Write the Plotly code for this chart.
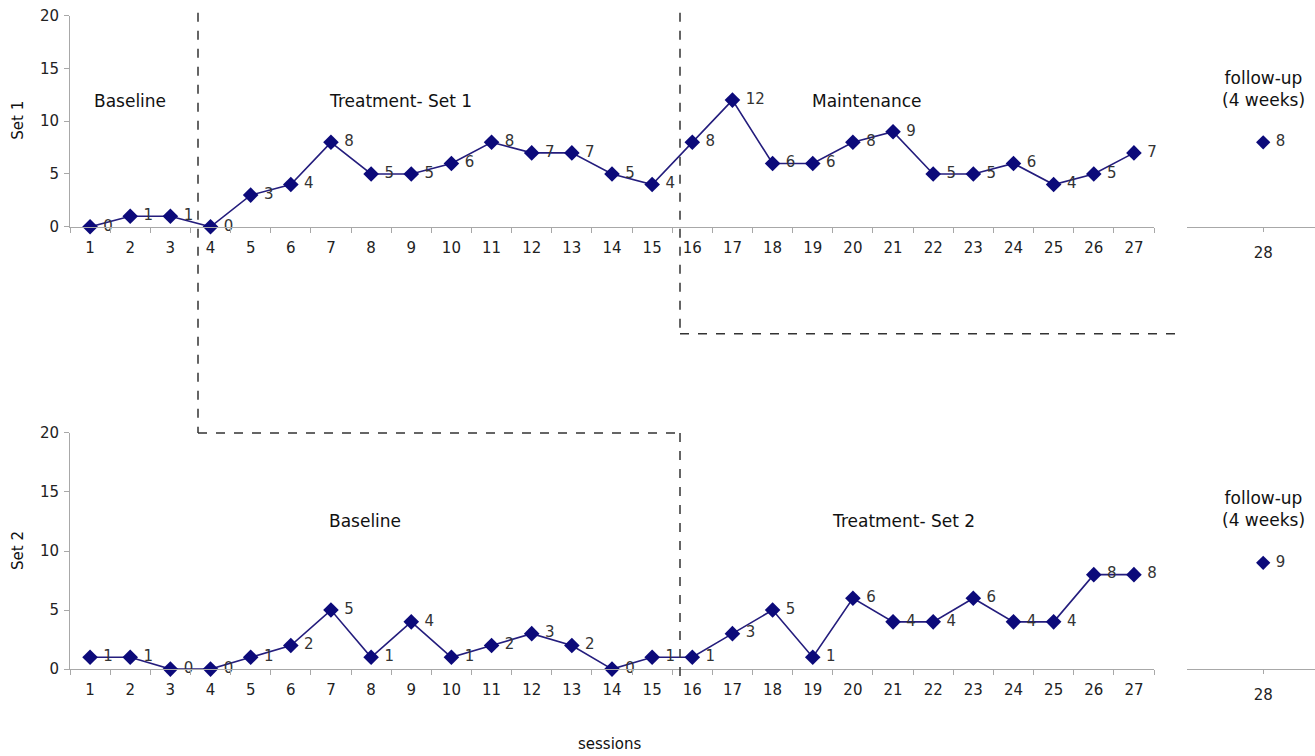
import plotly.graph_objects as go

W, H = 1315, 756

sessions = [str(i) for i in range(1, 28)]
set1_values = [0, 1, 1, 0, 3, 4, 8, 5, 5, 6, 8, 7, 7, 5, 4, 8, 12, 6, 6, 8, 9, 5, 5, 6, 4, 5, 7]
set2_values = [1, 1, 0, 0, 1, 2, 5, 1, 4, 1, 2, 3, 2, 0, 1, 1, 3, 5, 1, 6, 4, 4, 6, 4, 4, 8, 8]
followup_session = [28]
set1_followup = [8]
set2_followup = [9]
y_ticks = [0, 5, 10, 15, 20]

phase_labels_top = ["Baseline", "Treatment- Set 1", "Maintenance"]
phase_labels_bottom = ["Baseline", "Treatment- Set 2"]
followup_label = "follow-up<br>(4 weeks)"

FONT = "DejaVu Sans"
MARK = "#0c0a7a"
LINE = "#241d7d"
AXC = "#a8a8a8"
TXT = "#222222"

# observed vertical mapping in the rendered picture: shown = 8.37 + 0.9755 * page_y
VS, VO = 0.9755, 8.37


def px(x):
    return x / W


def py(y):
    return 1 - ((y - VO) / VS) / H


fig = go.Figure()

for vals, xa, ya in [(set1_values, "x", "y"), (set2_values, "x2", "y2")]:
    fig.add_trace(go.Scatter(
        x=sessions, y=vals, xaxis=xa, yaxis=ya,
        mode="lines+markers+text",
        text=[" " + str(v) for v in vals], textposition="middle right",
        textfont=dict(family=FONT, size=15, color="#333333"),
        line=dict(color=LINE, width=1.6),
        marker=dict(symbol="diamond", size=12, color=MARK),
        showlegend=False, cliponaxis=False,
    ))

for vals, xa, ya in [(set1_followup, "x3", "y3"), (set2_followup, "x4", "y4")]:
    fig.add_trace(go.Scatter(
        x=followup_session, y=vals, xaxis=xa, yaxis=ya,
        mode="markers+text",
        text=[" " + str(v) for v in vals], textposition="middle right",
        textfont=dict(family=FONT, size=15, color="#333333"),
        marker=dict(symbol="diamond", size=11, color=MARK),
        showlegend=False, cliponaxis=False,
    ))

top_dom = [py(226), py(15)]
bot_dom = [py(668), py(432)]
main_x = [px(70), px(1154)]
fu_x = [px(1187), 1.0]

xcommon = dict(type="category", range=[-0.5, 26.5], tickson="boundaries",
               ticks="outside", ticklen=5, ticklabelstandoff=7,
               tickcolor=AXC, showline=True, linecolor=AXC, linewidth=1,
               showgrid=False, zeroline=False,
               tickfont=dict(family=FONT, size=15, color=TXT))
ycommon = dict(range=[0, 20], tickvals=y_ticks, ticks="outside", ticklen=5,
               ticklabelstandoff=2,
               tickcolor=AXC, showline=True, linecolor=AXC, linewidth=1,
               showgrid=False, zeroline=False,
               tickfont=dict(family=FONT, size=15, color=TXT))
fucommon = dict(type="linear", range=[27.5, 28.34], tickvals=followup_session,
                ticks="outside", ticklen=4, ticklabelstandoff=8, tickcolor=AXC,
                showline=True, linecolor=AXC, linewidth=1, showgrid=False,
                zeroline=False, tickfont=dict(family=FONT, size=15, color=TXT))
fuy = dict(range=[0, 20], visible=False, showgrid=False, zeroline=False)

fig.update_layout(
    width=W, height=H,
    margin=dict(l=0, r=0, t=0, b=0),
    paper_bgcolor="white", plot_bgcolor="white",
    font=dict(family=FONT, size=15, color=TXT),
    xaxis=dict(domain=main_x, anchor="y", **xcommon),
    yaxis=dict(domain=top_dom, anchor="x", **ycommon),
    xaxis2=dict(domain=main_x, anchor="y2", **xcommon),
    yaxis2=dict(domain=bot_dom, anchor="x2", **ycommon),
    xaxis3=dict(domain=fu_x, anchor="y3", **fucommon),
    yaxis3=dict(domain=top_dom, anchor="x3", **fuy),
    xaxis4=dict(domain=fu_x, anchor="y4", **fucommon),
    yaxis4=dict(domain=bot_dom, anchor="x4", **fuy),
)

ann = []


def add_text(x, y, t, size=17, angle=0):
    ann.append(dict(x=px(x), y=py(y), xref="paper", yref="paper", text=t,
                    showarrow=False, textangle=angle,
                    font=dict(family=FONT, size=size, color="#111111"),
                    xanchor="center", yanchor="middle"))


add_text(130, 100, phase_labels_top[0])
add_text(400, 100, phase_labels_top[1])
add_text(866, 100, phase_labels_top[2])
add_text(1263, 88, followup_label)
add_text(365, 520, phase_labels_bottom[0])
add_text(904, 520, phase_labels_bottom[1])
add_text(1263, 508, followup_label)
add_text(18, 120, "Set 1", size=15, angle=-90)
add_text(18, 550, "Set 2", size=15, angle=-90)
add_text(610, 743, "sessions", size=15)
fig.update_layout(annotations=ann)

dash = dict(color="#333333", width=1.5, dash="dash")
segs = [
    (198, 12, 198, 432),
    (198, 432, 680, 432),
    (680, 432, 680, 678),
    (680, 12, 680, 333),
    (680, 333, 1178, 333),
]
fig.update_layout(shapes=[dict(type="line", xref="paper", yref="paper",
                               x0=px(a), y0=py(b), x1=px(c), y1=py(d), line=dash)
                          for a, b, c, d in segs])

fig.write_html(
    "out.html",
    config={"displayModeBar": False},
    post_script=("document.body.style.margin='0';"
                 "document.body.style.overflow='hidden';"
                 "document.documentElement.style.overflow='hidden';"
                 "var gd=document.getElementById('{plot_id}');"
                 "gd.style.position='fixed';gd.style.top='0px';gd.style.left='0px';"),
)
